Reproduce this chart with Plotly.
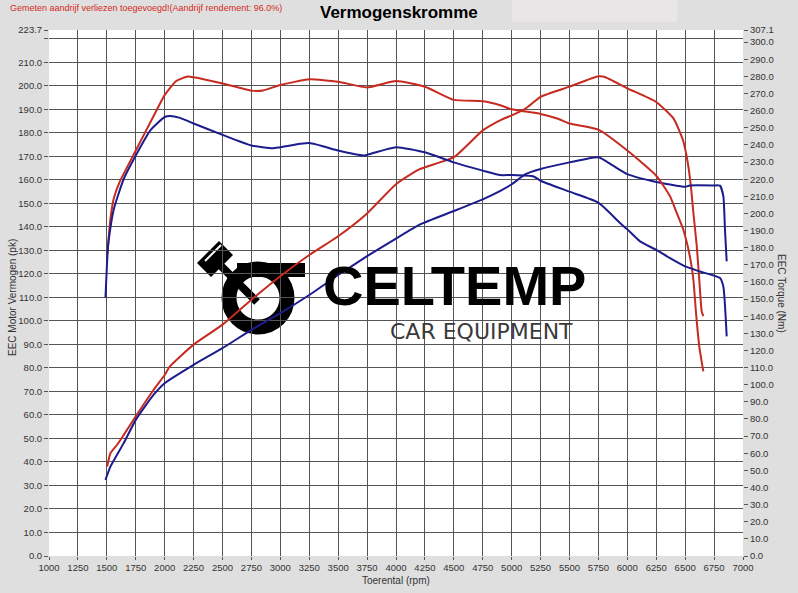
import plotly.graph_objects as go

# Dyno sheet values (rpm vs pk / Nm)
rpm_red_pk = [1503, 1531, 1589, 1646, 1750, 1905, 2000, 2045, 2250, 2500, 2750, 3000,
              3250, 3500, 3750, 4000, 4200, 4500, 4750, 4900, 5000, 5120, 5250, 5500,
              5750, 5800, 6000, 6250, 6400, 6480, 6520, 6550, 6571, 6600, 6622, 6643, 6657]
red_pk = [38.0, 43.7, 47.3, 51.5, 59.4, 70.7, 77.0, 80.6, 89.9, 98.4, 109.0, 119.0,
          128.0, 136.0, 145.7, 158.1, 164.4, 169.6, 181.0, 185.3, 187.4, 190.3, 195.3, 199.6,
          204.0, 203.8, 198.9, 193.1, 186.0, 177.0, 168.0, 157.0, 146.0, 132.0, 117.5, 104.0, 102.0]

rpm_blue_pk = [1488, 1531, 1646, 1750, 1905, 2000, 2250, 2500, 2750, 3000, 3250, 3500,
               3750, 4000, 4209, 4500, 4750, 4902, 5000, 5120, 5250, 5500, 5750, 5877,
               6000, 6250, 6500, 6540, 6750, 6801, 6830, 6844, 6859]
blue_pk = [32.4, 38.0, 48.0, 57.9, 68.6, 73.5, 81.3, 88.4, 96.2, 103.3, 111.0, 119.5,
           127.5, 135.0, 141.0, 146.7, 151.7, 155.3, 158.1, 162.4, 164.6, 167.4, 169.6, 166.0,
           162.4, 159.1, 157.0, 157.6, 157.6, 157.5, 153.0, 138.8, 125.3]

rpm_red_nm = [1505, 1530, 1560, 1610, 1750, 1900, 2000, 2100, 2200, 2250, 2500, 2750,
              2850, 3000, 3250, 3500, 3750, 4000, 4250, 4500, 4750, 4900, 5000, 5250,
              5400, 5500, 5750, 6000, 6250, 6369, 6427, 6484, 6522, 6551, 6571, 6594,
              6622, 6657]
red_nm = [176.4, 196.3, 208.7, 218.3, 236.7, 256.3, 269.1, 277.3, 279.9, 279.5, 275.9, 271.7,
          271.8, 275.0, 278.3, 276.9, 273.6, 277.3, 274.0, 266.3, 265.5, 263.2, 260.8, 258.1,
          255.3, 252.5, 248.9, 236.7, 222.0, 210.0, 200.3, 190.5, 180.8, 171.0, 161.3, 141.8,
          122.3, 107.8]

rpm_blue_nm = [1488, 1508, 1517, 1560, 1646, 1750, 1876, 2000, 2046, 2133, 2250, 2500,
               2750, 2936, 3000, 3250, 3500, 3716, 3750, 4000, 4250, 4500, 4750, 4900,
               5000, 5190, 5250, 5500, 5750, 5937, 6000, 6110, 6250, 6369, 6499, 6628,
               6801, 6830, 6859]
blue_nm = [150.7, 178.9, 184.8, 202.4, 220.1, 233.8, 248.5, 256.3, 256.9, 255.8, 252.5, 245.9,
           239.7, 238.0, 238.7, 241.1, 236.7, 233.8, 234.2, 238.7, 235.7, 229.8, 225.0, 222.4,
           222.4, 221.6, 219.1, 212.7, 206.3, 194.4, 190.7, 183.7, 178.7, 173.9, 169.1, 166.1,
           162.3, 157.3, 128.2]

# Axis ticks
x_ticks = list(range(1000, 7001, 250))
pk_ticks = [float(v) for v in range(0, 221, 10)] + [223.7]
pk_labels = [f"{v:.1f}" for v in pk_ticks]
pk_labels[pk_ticks.index(220.0)] = ""
nm_ticks = [float(v) for v in range(0, 301, 10)] + [307.1]
nm_labels = [f"{v:.1f}" for v in nm_ticks]

RED = "#c62a20"
BLUE = "#1c1c8c"
FONT = "Liberation Sans, Arial, sans-serif"

W, H = 798, 593
L, R, T, B = 49, 55, 30, 37


def paper(x, y):
    # window pixel -> paper coordinates
    return (x - L) / (W - L - R), (H - B - y) / (H - T - B)


def label(px, py, text, size, color, **kw):
    ax, ay = paper(px, py)
    opts = dict(xanchor="center", yanchor="middle")
    opts.update(kw)
    fig.add_annotation(x=ax, y=ay, xref="paper", yref="paper", text=text, showarrow=False,
                       font=dict(family=opts.pop("family", FONT), size=size, color=color),
                       **opts)


fig = go.Figure()
line_opts = dict(shape="spline", smoothing=0.5, width=2)
fig.add_trace(go.Scatter(x=rpm_red_nm, y=red_nm, yaxis="y2", mode="lines",
                         line=dict(color=RED, **line_opts), name="Koppel (getuned)"))
fig.add_trace(go.Scatter(x=rpm_blue_nm, y=blue_nm, yaxis="y2", mode="lines",
                         line=dict(color=BLUE, **line_opts), name="Koppel (origineel)"))
fig.add_trace(go.Scatter(x=rpm_red_pk, y=red_pk, mode="lines",
                         line=dict(color=RED, **line_opts), name="Vermogen (getuned)"))
fig.add_trace(go.Scatter(x=rpm_blue_pk, y=blue_pk, mode="lines",
                         line=dict(color=BLUE, **line_opts), name="Vermogen (origineel)"))

axis_font = dict(family=FONT, size=9.5, color="#333333")
fig.update_layout(
    width=W, height=H,
    margin=dict(l=L, r=R, t=T, b=B),
    paper_bgcolor="#dfdfdf", plot_bgcolor="white",
    showlegend=False,
    font=dict(family=FONT),
    xaxis=dict(range=[1000, 7000], tickvals=x_ticks, ticktext=[str(v) for v in x_ticks],
               tickfont=axis_font, ticks="outside", ticklen=3, tickcolor="#555555",
               showgrid=True, gridcolor="#555555", gridwidth=1,
               zeroline=False, showline=False),
    yaxis=dict(range=[0, 223.7], tickvals=pk_ticks, ticktext=pk_labels,
               tickfont=axis_font, ticks="outside", ticklen=4, tickcolor="#555555",
               showgrid=True, gridcolor="#555555", gridwidth=1,
               zeroline=False, showline=False),
    yaxis2=dict(range=[0, 307.1], tickvals=nm_ticks, ticktext=nm_labels, overlaying="y",
                side="right", tickfont=axis_font, ticks="outside", ticklen=4,
                tickcolor="#555555", showgrid=False, zeroline=False, showline=False),
)

# light box behind the title area
x0, y0 = paper(512, 22)
x1, y1 = paper(677, 0)
fig.add_shape(type="rect", xref="paper", yref="paper", x0=x0, x1=x1, y0=y0, y1=y1,
              fillcolor="#e9e6e8", line_width=0, layer="below")

# watermark logo (piston + ring)
cx, cy = paper(258, 298)
rx = 29 / (W - L - R)
ry = 29 / (H - T - B)
fig.add_shape(type="circle", xref="paper", yref="paper", x0=cx - rx, x1=cx + rx,
              y0=cy - ry, y1=cy + ry, line=dict(color="black", width=15), layer="between")
bx0, by0 = paper(237, 277)
bx1, by1 = paper(305, 263)
fig.add_shape(type="rect", xref="paper", yref="paper", x0=bx0, x1=bx1, y0=by0, y1=by1,
              fillcolor="black", line_width=0, layer="between")
rx0, ry0 = paper(218, 263)
rx1, ry1 = paper(257, 302)
fig.add_shape(type="line", xref="paper", yref="paper", x0=rx0, y0=ry0, x1=rx1, y1=ry1,
              line=dict(color="black", width=8), layer="between")
pc = (215, 259)
pts = [(pc[0] + a * 11 + b * 7, pc[1] - a * 11 + b * 7) for a, b in [(-1, -1), (1, -1), (1, 1), (-1, 1)]]
path = "M " + " L ".join(f"{paper(x, y)[0]},{paper(x, y)[1]}" for x, y in pts) + " Z"
fig.add_shape(type="path", xref="paper", yref="paper", path=path,
              fillcolor="black", line_width=0, layer="between")
gx0, gy0 = paper(205, 261)
gx1, gy1 = paper(221, 245)
fig.add_shape(type="line", xref="paper", yref="paper", x0=gx0, y0=gy0, x1=gx1, y1=gy1,
              line=dict(color="white", width=2), layer="between")

label(454, 285, "<b>CELTEMP</b>", 56, "black")
label(482, 331, "CAR EQUIPMENT", 22, "#3a3a3a", family="DejaVu Sans")

# titles and notes
label(399, 12, "<b>Vermogenskromme</b>", 17, "black")
label(8, 8, "Gemeten aandrijf verliezen toegevoegd!(Aandrijf rendement: 96.0%)", 9, "#d42a22",
      xanchor="left")
label(12, 298, "EEC Motor Vermogen (pk)", 10, "#333333", textangle=-90)
label(782, 293, "EEC Torque (Nm)", 10, "#333333", textangle=90)
label(396, 580, "Toerental (rpm)", 10, "#333333")

# page has a default body margin; drop it so the figure fills the window
fig.write_html("out.html", config={"displayModeBar": False},
               post_script="document.body.style.margin='0';")
